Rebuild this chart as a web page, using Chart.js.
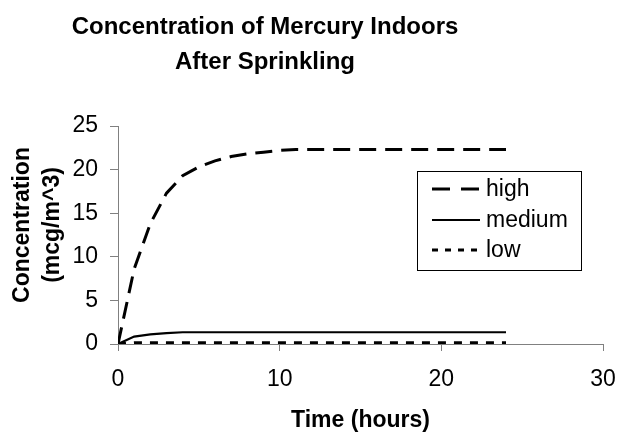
<!DOCTYPE html>
<html>
<head>
<meta charset="utf-8">
<script src="https://cdn.jsdelivr.net/npm/chart.js@4"></script>
<style>
  html, body { margin: 0; padding: 0; background: #fff; }
  #wrap { width: 619px; height: 432px; }
</style>
</head>
<body>
<div id="wrap"><canvas id="c" width="619" height="432"></canvas></div>
<script>
const titleLines = ['Concentration of Mercury Indoors', 'After Sprinkling'];
const xTitle = 'Time (hours)';
const yTitle = ['Concentration', '(mcg/m^3)'];
const seriesNames = ['high', 'medium', 'low'];
const hours = [0, 1, 2, 3, 4, 5, 6, 7, 8, 9, 10, 11, 12, 13, 14, 15, 16, 17, 18, 19, 20, 21, 22, 23, 24];
const high = [0, 8.6, 13.8, 17.3, 19.3, 20.3, 21.0, 21.5, 21.8, 22.0, 22.2, 22.3, 22.3, 22.3, 22.3, 22.3, 22.3, 22.3, 22.3, 22.3, 22.3, 22.3, 22.3, 22.3, 22.3];
const medium = [0, 0.85, 1.1, 1.25, 1.35, 1.35, 1.35, 1.35, 1.35, 1.35, 1.35, 1.35, 1.35, 1.35, 1.35, 1.35, 1.35, 1.35, 1.35, 1.35, 1.35, 1.35, 1.35, 1.35, 1.35];
const low = [0, 0.15, 0.15, 0.15, 0.15, 0.15, 0.15, 0.15, 0.15, 0.15, 0.15, 0.15, 0.15, 0.15, 0.15, 0.15, 0.15, 0.15, 0.15, 0.15, 0.15, 0.15, 0.15, 0.15, 0.15];
const xTicks = [0, 10, 20, 30];
const yTicks = [0, 5, 10, 15, 20, 25];

const FONT = '"Liberation Sans", Arial, Helvetica, sans-serif';
const toPts = arr => hours.map((h, i) => ({ x: h, y: arr[i] }));

const styles = [
  { dash: [17, 9], legendDash: [18, 11], width: 3 },
  { dash: [], legendDash: [], width: 2.2 },
  { dash: [8, 8], legendDash: [6, 7], width: 3 }
];

const titlePlugin = {
  id: 'mainTitle',
  afterDraw(chart) {
    const ctx = chart.ctx;
    ctx.save();
    ctx.fillStyle = '#000';
    ctx.font = 'bold 24px ' + FONT;
    ctx.textAlign = 'center';
    ctx.textBaseline = 'middle';
    ctx.fillText(titleLines[0], 265, 27);
    ctx.fillText(titleLines[1], 265, 62);
    // y axis title, rotated
    ctx.font = 'bold 23px ' + FONT;
    ctx.translate(0, 225);
    ctx.rotate(-Math.PI / 2);
    ctx.fillText(yTitle[0], 0, 23);
    ctx.fillText(yTitle[1], 0, 53);
    ctx.restore();
  }
};

const legendPlugin = {
  id: 'boxLegend',
  afterDraw(chart) {
    const ctx = chart.ctx;
    const box = { l: 417.5, t: 171.5, r: 581.5, b: 270.5 };
    const rows = [189, 220, 250];
    ctx.save();
    ctx.strokeStyle = '#000';
    ctx.lineWidth = 1;
    ctx.setLineDash([]);
    ctx.strokeRect(box.l, box.t, box.r - box.l, box.b - box.t);
    ctx.font = '23px ' + FONT;
    ctx.fillStyle = '#000';
    ctx.textAlign = 'left';
    ctx.textBaseline = 'middle';
    chart.data.datasets.forEach((ds, i) => {
      ctx.beginPath();
      ctx.lineWidth = ds.borderWidth;
      ctx.setLineDash(styles[i].legendDash);
      ctx.moveTo(432, rows[i]);
      ctx.lineTo(480, rows[i]);
      ctx.stroke();
      ctx.setLineDash([]);
      ctx.fillText(ds.label, 486, rows[i] + 1);
    });
    ctx.restore();
  }
};

const datasets = [high, medium, low].map((arr, i) => ({
  label: seriesNames[i],
  data: toPts(arr),
  borderColor: '#000',
  backgroundColor: '#000',
  borderWidth: styles[i].width,
  borderDash: styles[i].dash,
  pointRadius: 0,
  tension: 0,
  fill: false
}));

new Chart(document.getElementById('c'), {
  type: 'line',
  data: { datasets },
  options: {
    responsive: false,
    animation: false,
    layout: { padding: { top: 126, right: 16, left: 0, bottom: 0 } },
    plugins: { legend: { display: false }, title: { display: false }, tooltip: { enabled: false } },
    scales: {
      x: {
        type: 'linear',
        min: 0, max: 30,
        afterBuildTicks: s => { s.ticks = xTicks.map(v => ({ value: v })); },
        afterFit: s => { s.height = 88; s.paddingRight = 0; s.paddingLeft = 0; },
        grid: { display: true, drawOnChartArea: false, drawTicks: true, tickLength: 7, color: '#808080', lineWidth: 1 },
        border: { display: true, color: '#808080', width: 1 },
        ticks: { color: '#000', font: { family: FONT, size: 23 }, padding: 15, maxRotation: 0 },
        title: { display: true, text: xTitle, color: '#000', font: { family: FONT, size: 23, weight: 'bold', lineHeight: 1 }, padding: { top: 0, bottom: 0 } }
      },
      y: {
        min: 0, max: 25,
        afterBuildTicks: s => { s.ticks = yTicks.map(v => ({ value: v })); },
        afterFit: s => { s.width = 118; s.paddingTop = 0; s.paddingBottom = 0; },
        grid: { display: true, drawOnChartArea: false, drawTicks: true, tickLength: 8, color: '#808080', lineWidth: 1 },
        border: { display: true, color: '#808080', width: 1 },
        ticks: { color: '#000', font: { family: FONT, size: 23 }, padding: 12 },
        title: { display: false }
      }
    }
  },
  plugins: [titlePlugin, legendPlugin]
});
</script>
</body>
</html>
